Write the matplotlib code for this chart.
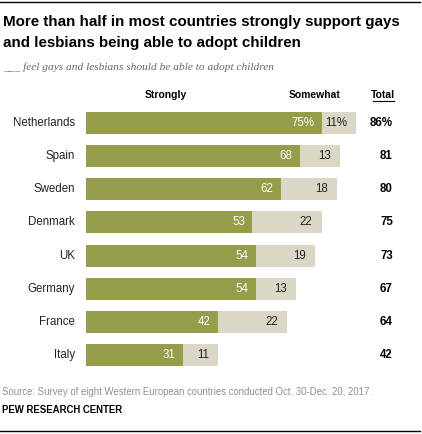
import matplotlib
matplotlib.use("Agg")
import matplotlib.pyplot as plt
from matplotlib.lines import Line2D

countries = ["Netherlands", "Spain", "Sweden", "Denmark", "UK", "Germany", "France", "Italy"]
strongly = [75, 68, 62, 53, 54, 54, 42, 31]
somewhat = [11, 13, 18, 22, 19, 13, 22, 11]
total = [86, 81, 80, 75, 73, 67, 64, 42]

GREEN = "#959C4A"
LIGHT = "#DAD7C7"
W, H = 422, 434
plt.rcParams['font.family'] = ['Liberation Sans', 'DejaVu Sans']
fig = plt.figure(figsize=(W / 100, H / 100), dpi=100)

def px(x, y):
    return x / W, 1 - y / H

# axes geometry in pixels
x0, x1 = 86, 86 + 3.14 * 100
ytop, ybot = 106.5, 371.5
ax = fig.add_axes([x0 / W, 1 - ybot / H, (x1 - x0) / W, (ybot - ytop) / H])
ax.set_xlim(0, 100)
ax.set_ylim(len(countries) - 0.5, -0.5)
ax.axis("off")

ys = list(range(len(countries)))
ax.barh(ys, strongly, height=0.665, color=GREEN, linewidth=0)
ax.barh(ys, somewhat, left=strongly, height=0.665, color=LIGHT, linewidth=0)

off = 2.4
for i, (s, m, t, c) in enumerate(zip(strongly, somewhat, total, countries)):
    sl = f"{s}%" if i == 0 else f"{s}"
    ml = f"{m}%" if i == 0 else f"{m}"
    tl = f"{t}%" if i == 0 else f"{t}"
    ax.text(s - off, i, sl, ha="right", va="center", color="white", fontsize=8.3)
    ax.text(s + m - off * 1.2, i, ml, ha="right", va="center", color="#222222", fontsize=8.3)
    ax.text((393 - x0) / 3.14, i, tl, ha="right", va="center", color="black",
            fontsize=8.3, fontweight="bold")
    ax.text(-(86 - 75) / 3.14, i, c, ha="right", va="center", color="#222222", fontsize=8.3)

# header
fig.text(*px(166, 95), "Strongly", ha="center", va="center", fontsize=7.5, fontweight="bold")
fig.text(*px(315, 95), "Somewhat", ha="center", va="center", fontsize=7.5, fontweight="bold")
fig.text(*px(383, 95), "Total", ha="center", va="center", fontsize=7.5, fontweight="bold")
fig.add_artist(Line2D([373 / W, 394 / W], [1 - 101 / H, 1 - 101 / H], color="black", lw=0.8))

# title
fig.text(*px(3, 22), "More than half in most countries strongly support gays",
         ha="left", va="center", fontsize=10.9, fontweight="bold", color="black")
fig.text(*px(3, 43), "and lesbians being able to adopt children",
         ha="left", va="center", fontsize=10.9, fontweight="bold", color="black")
fig.text(*px(3, 67), "___ feel gays and lesbians should be able to adopt children",
         ha="left", va="center", fontsize=8.2, style="italic", color="#666666",
         family=["Liberation Serif", "DejaVu Serif"])

# footer
fig.text(*px(2, 392), "Source: Survey of eight Western European countries conducted Oct. 30-Dec. 20, 2017.",
         ha="left", va="center", fontsize=6.9, color="#909090")
fig.text(*px(2, 410), "PEW RESEARCH CENTER", ha="left", va="center", fontsize=6.9,
         fontweight="bold", color="black")

# rules
fig.add_artist(Line2D([0, 420 / W], [1 - 2 / H, 1 - 2 / H], color="black", lw=1.0))
fig.add_artist(Line2D([0, 420 / W], [1 - 431 / H, 1 - 431 / H], color="black", lw=1.0))

fig.savefig("out.png", dpi=100)
